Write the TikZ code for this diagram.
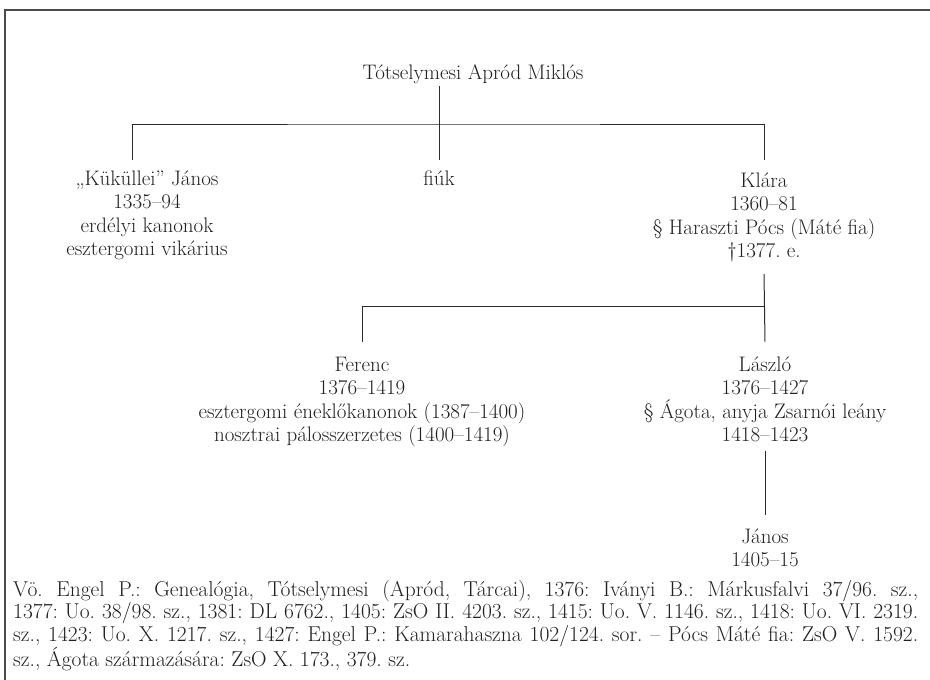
\documentclass[tikz,border=0pt]{standalone}
\usetikzlibrary{positioning}
\definecolor{gInk}{HTML}{231F20}
\definecolor{gLine}{HTML}{2B2B2B}
\definecolor{gFrame}{HTML}{4A4A4A}
\tikzset{
  % person entry (base = last line)
  pers/.style={inner sep=0pt,align=center,anchor=base,text=gInk,
    font=\fontsize{21}{23.5}\selectfont},
  % tree lines
  lin/.style={draw=gLine,line width=1pt},
  % frame round the table
  frm/.style={draw=gFrame,line width=1.5pt},
  % source note
  note/.style={inner sep=0pt,anchor=base west,text width=905pt,
    align=justify,text=gInk,font=\fontsize{21.5}{22.5}\selectfont},
}
\frenchspacing
\begin{document}
\begin{tikzpicture}[x=1pt,y=-1pt]
  \useasboundingbox (0,0) rectangle (930,680);
  \draw[frm] (930,10) -- (5,10) -- (5,680);

  \node[pers] (apa) at (473,79) {Tótselymesi Apród Miklós};
  \node[pers] (kjanos) at (147,255.5)
    {„Küküllei” János\\1335–94\\erdélyi kanonok\\esztergomi vikárius};
  \node[pers] (fiuk) at (439,185) {fiúk};
  \node[pers] (klara) at (764,257.5)
    {Klára\\1360–81\\§ Haraszti Pócs (Máté fia)\\†1377. e.};
  \node[pers] (ferenc) at (362,441.5)
    {Ferenc\\1376–1419\\esztergomi éneklőkanonok (1387–1400)\\nosztrai pálosszerzetes (1400–1419)};
  \node[pers] (laszlo) at (765,441.5)
    {László\\1376–1427\\§ Ágota, anyja Zsarnói leány\\1418–1423};
  \node[pers] (janos) at (765,566.5) {János\\1405–15};

  \coordinate (top1) at (439,124);
  \coordinate (top2) at (765,306);

  \draw[lin,shorten <=3pt] (apa.south -| fiuk.north) -- ([yshift=10pt]fiuk.north);
  \draw[lin] ([xshift=-15pt,yshift=10pt]kjanos.north) |- (top1)
    -| ([yshift=12pt]klara.north);
  \draw[lin] ([yshift=-12pt]klara.south) -- ([yshift=14.5pt]laszlo.north);
  \draw[lin] ([yshift=14.5pt]ferenc.north) |- (top2);
  \draw[lin] ([yshift=-9pt]laszlo.south) -- ([yshift=13pt]janos.north);

  \node[note] (forras) at (13,596)
    {Vö. Engel P.: Genealógia, Tótselymesi (Apród, Tárcai), 1376: Iványi B.: Márkusfalvi 37/96. sz.,\linebreak
     1377: Uo. 38/98. sz., 1381: DL 6762., 1405: ZsO II. 4203. sz., 1415: Uo. V. 1146. sz., 1418: Uo. VI. 2319.\linebreak
     sz., 1423: Uo. X. 1217. sz., 1427: Engel P.: Kamarahaszna 102/124. sor. – Pócs Máté fia: ZsO V. 1592.\linebreak
     sz., Ágota származására: ZsO X. 173., 379. sz.};
\end{tikzpicture}
\end{document}
